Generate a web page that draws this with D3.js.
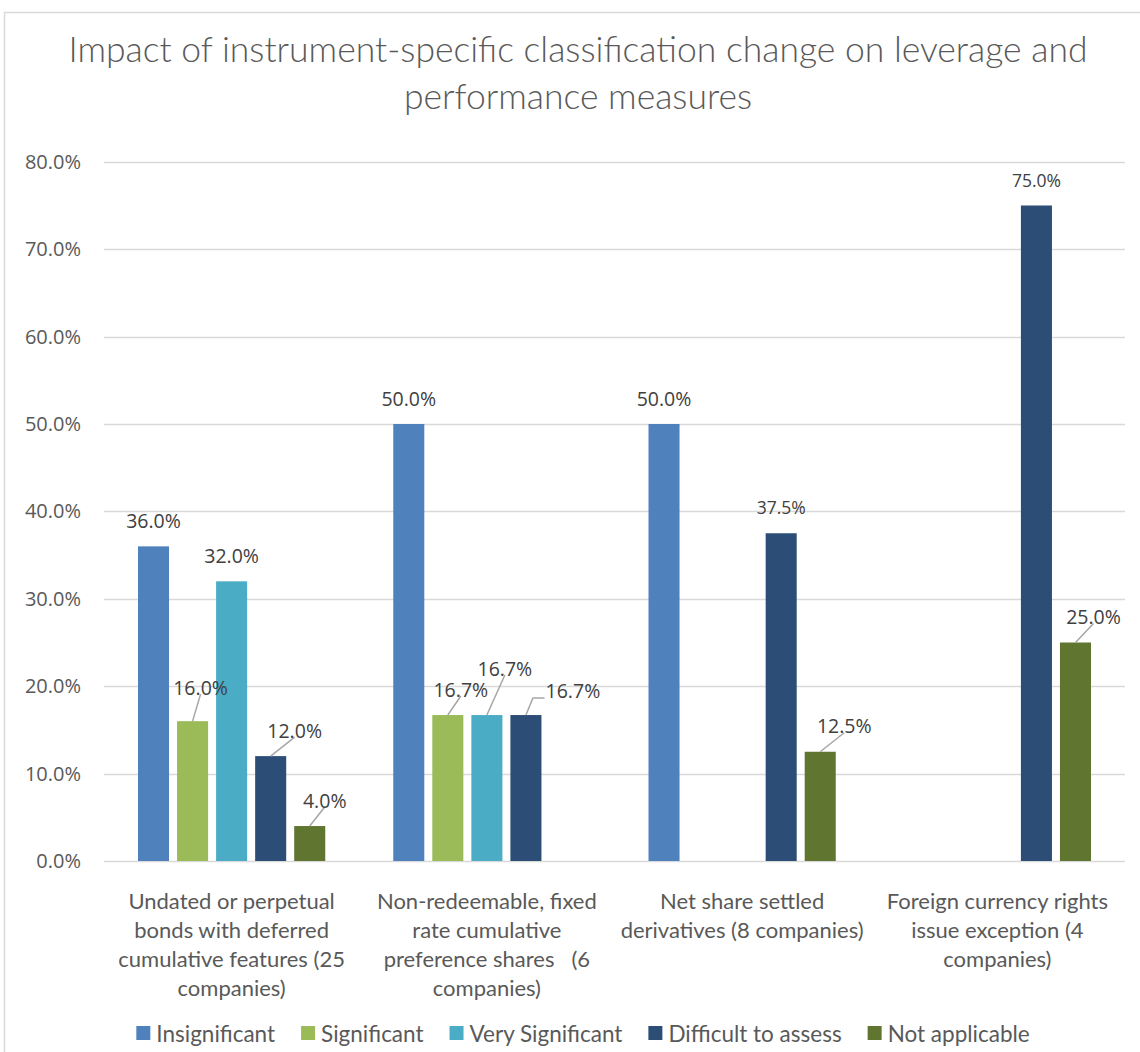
<!DOCTYPE html>
<html>
<head>
<meta charset="utf-8">
<script src="https://cdn.jsdelivr.net/npm/d3@7/dist/d3.min.js"></script>
<style>
  html, body { margin: 0; padding: 0; background: #fff; }
  svg { display: block; }
</style>
</head>
<body>
<svg id="chart" width="1140" height="1052"></svg>
<script>
// ---- data ----
const titleLines = [
  "Impact of instrument-specific classification change on leverage and",
  "performance measures"
];
const categories = [
  "Undated or perpetual bonds with deferred cumulative features (25 companies)",
  "Non-redeemable, fixed rate cumulative preference shares (6 companies)",
  "Net share settled derivatives (8 companies)",
  "Foreign currency rights issue exception (4 companies)"
];
// category labels as wrapped on the axis
const categoryLines = [
  ["Undated or perpetual", "bonds with deferred", "cumulative features (25", "companies)"],
  ["Non-redeemable, fixed", "rate cumulative", "preference shares \u00a0 (6", "companies)"],
  ["Net share settled", "derivatives (8 companies)"],
  ["Foreign currency rights", "issue exception (4", "companies)"]
];
const seriesNames = ["Insignificant", "Significant", "Very Significant", "Difficult to assess", "Not applicable"];
const insignificant     = [0.360, 0.500, 0.500, null];
const significant       = [0.160, 0.167, null,  null];
const verySignificant   = [0.320, 0.167, null,  null];
const difficultToAssess = [0.120, 0.167, 0.375, 0.750];
const notApplicable     = [0.040, null,  0.125, 0.250];
const yTicks = [0, 0.1, 0.2, 0.3, 0.4, 0.5, 0.6, 0.7, 0.8];

const seriesValues = [insignificant, significant, verySignificant, difficultToAssess, notApplicable];
const colors = ["#4f81bd", "#9bbb59", "#4bacc6", "#2c4d75", "#5f7530"];

// data-label placement tweaks: [category, series, dx, dy, elbow]
const labelShifts = [
  [0, 1, 8, -8, false],
  [0, 3, 24, 0, false],
  [0, 4, 15, 0, false],
  [1, 1, 13, 0, false],
  [1, 2, 18, -21, false],
  [1, 3, 47, 1, true],
  [2, 4, 24, 0, false],
  [3, 4, 18, 0, false]
];
const smallLabels = [[2, 3], [3, 3]];

// ---- layout ----
const svg = d3.select("#chart");
const plot = { left: 104, right: 1125, top: 161.8, bottom: 861 };
const catFont = "Lato, 'Open Sans', sans-serif";
const numFont = "'Open Sans', sans-serif";

// chart frame
svg.append("rect")
  .attr("x", 4.5).attr("y", 12.5)
  .attr("width", 1170).attr("height", 1080)
  .attr("fill", "#fff").attr("stroke", "#d9d9d9").attr("stroke-width", 1.5);

// title
const title = svg.append("text")
  .attr("text-anchor", "middle")
  .attr("font-family", catFont)
  .attr("font-weight", 300)
  .attr("font-size", 35.5)
  .attr("fill", "#595959");
titleLines.forEach((t, i) => {
  title.append("tspan").attr("x", 578).attr("y", 62 + i * 47).text(t);
});

const x0 = d3.scaleBand().domain(d3.range(categories.length)).range([plot.left, plot.right]);
const groupPad = 34;
const x1 = d3.scaleBand().domain(d3.range(seriesNames.length))
  .range([groupPad, x0.bandwidth() - groupPad]).paddingInner(0.205);
const y = d3.scaleLinear().domain([0, 0.8]).range([plot.bottom, plot.top]);

// gridlines
svg.append("g").selectAll("line").data(yTicks).join("line")
  .attr("x1", plot.left).attr("x2", plot.right)
  .attr("y1", d => Math.round(y(d)) + 0.5).attr("y2", d => Math.round(y(d)) + 0.5)
  .attr("stroke", "#d9d9d9").attr("stroke-width", 1.5);

// y axis labels
const yAxis = d3.axisLeft(y).tickValues(yTicks).tickFormat(d3.format(".1%")).tickSize(0).tickPadding(23);
const gy = svg.append("g").attr("transform", `translate(${plot.left},0)`).call(yAxis);
gy.select(".domain").remove();
gy.selectAll("text")
  .attr("font-family", numFont).attr("font-size", 20).attr("fill", "#595959");

// bars
const bars = [];
categories.forEach((c, ci) => {
  seriesValues.forEach((vals, si) => {
    if (vals[ci] != null) bars.push({ ci, si, v: vals[ci] });
  });
});
svg.append("g").selectAll("rect").data(bars).join("rect")
  .attr("x", d => x0(d.ci) + x1(d.si))
  .attr("width", x1.bandwidth())
  .attr("y", d => y(d.v))
  .attr("height", d => y(0) - y(d.v))
  .attr("fill", d => colors[d.si]);

// data labels with leader lines
const fmt = d3.format(".1%");
const lblG = svg.append("g");
bars.forEach(d => {
  const cx = x0(d.ci) + x1(d.si) + x1.bandwidth() / 2;
  const top = y(d.v);
  const s = labelShifts.find(r => r[0] === d.ci && r[1] === d.si);
  const small = smallLabels.some(r => r[0] === d.ci && r[1] === d.si);
  const lx = cx + (s ? s[2] : 0);
  const ly = top - 26 + (s ? s[3] : 0);
  const t = lblG.append("text")
    .attr("x", lx).attr("y", ly)
    .attr("text-anchor", "middle").attr("dominant-baseline", "central")
    .attr("font-family", numFont).attr("font-size", small ? 17.5 : 19.5)
    .attr("fill", "#404040")
    .text(fmt(d.v));
  if (s) {
    const w = t.node().getComputedTextLength();
    let pts;
    if (s[4]) {
      const ex = lx - w / 2 - 1;
      pts = [[cx, top], [cx + 7, ly + 8], [ex, ly + 8]];
    } else {
      pts = [[cx, top], [lx, ly + 7]];
    }
    lblG.insert("path", "text")
      .attr("d", d3.line()(pts))
      .attr("fill", "none").attr("stroke", "#a6a6a6").attr("stroke-width", 1.5);
  }
});

// category labels
const catG = svg.append("g");
categoryLines.forEach((lines, ci) => {
  const t = catG.append("text")
    .attr("text-anchor", "middle")
    .attr("font-family", catFont).attr("font-size", 22).attr("fill", "#595959");
  lines.forEach((ln, li) => {
    t.append("tspan")
      .attr("x", x0(ci) + x0.bandwidth() / 2)
      .attr("y", 909 + li * 29)
      .text(ln);
  });
});

// legend
const legG = svg.append("g");
const items = [];
let cursor = 0;
seriesNames.forEach((n, i) => {
  const g = legG.append("g");
  g.append("rect").attr("x", 0).attr("y", -7).attr("width", 14).attr("height", 14).attr("fill", colors[i]);
  const tx = g.append("text").attr("x", 20).attr("y", 0)
    .attr("dominant-baseline", "central")
    .attr("font-family", catFont).attr("font-size", 22.5).attr("fill", "#595959")
    .text(n);
  const w = 20 + tx.node().getComputedTextLength();
  items.push({ g, x: cursor });
  cursor += w + 26;
});
const legW = cursor - 26;
const legX = 583 - legW / 2;
items.forEach(it => it.g.attr("transform", `translate(${legX + it.x},1033)`));
</script>
</body>
</html>
